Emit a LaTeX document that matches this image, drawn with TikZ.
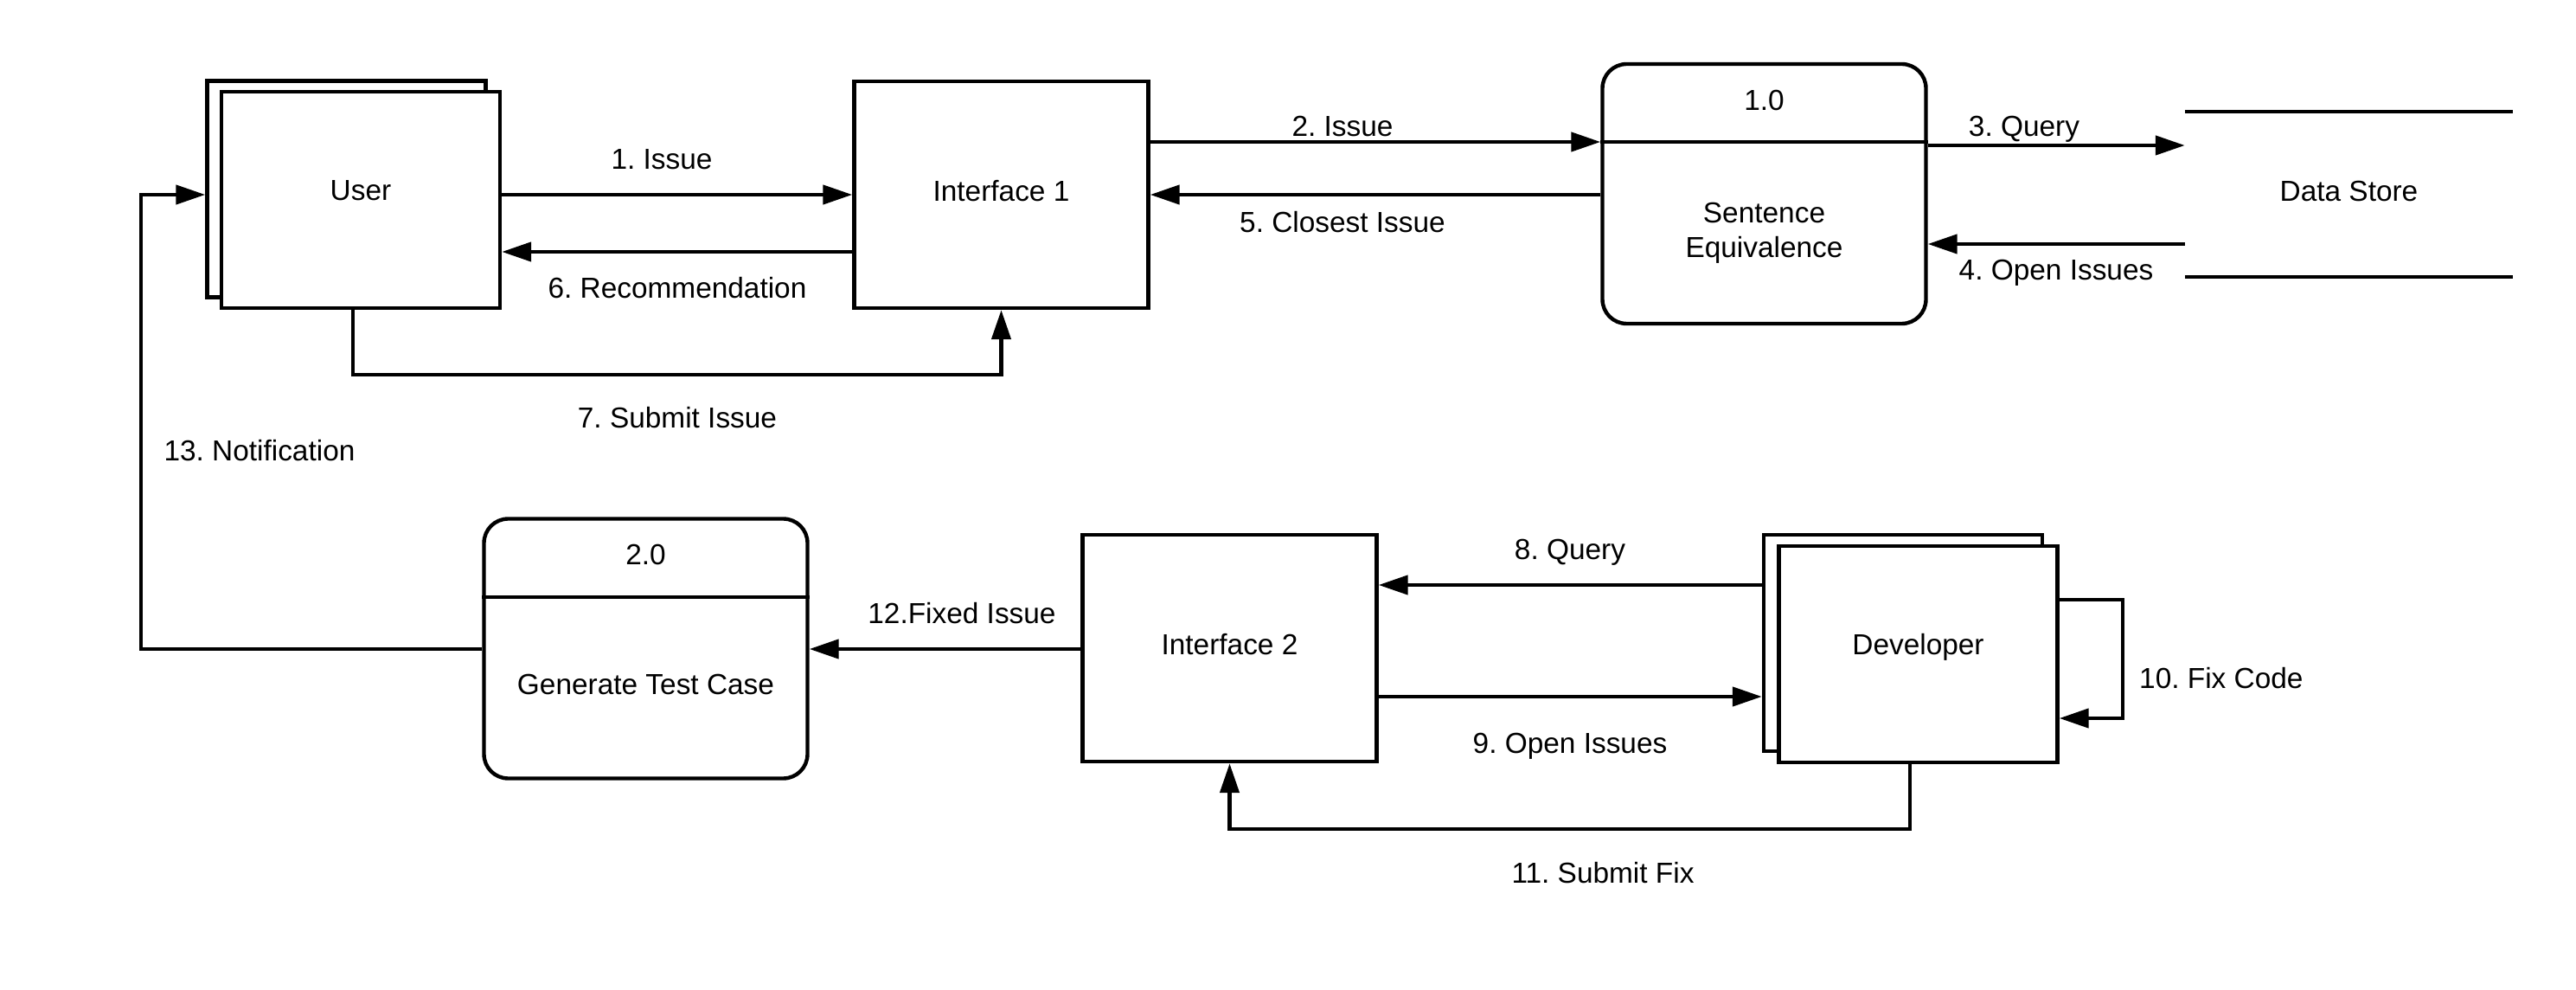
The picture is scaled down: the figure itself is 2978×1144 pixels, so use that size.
\documentclass[tikz,border=0pt]{standalone}
\usepackage{fontspec}
\setmainfont{Liberation Sans}
\usetikzlibrary{arrows.meta}
\frenchspacing

\begin{document}
\begin{tikzpicture}[x=0.25pt, y=-0.25pt, line width=1.1pt,
        font=\fontsize{8.35pt}{10pt}\selectfont,
        txt/.style = {text height=6pt, text depth=0pt},
        ext/.style = {draw, fill=white, inner sep=0pt, minimum width=80.5pt, minimum height=62.5pt, text height=6pt, text depth=5.5pt},
        iface/.style = {draw, inner sep=0pt, minimum width=85pt, minimum height=65.5pt, text height=6pt, text depth=2pt},
        proc/.style = {draw, rounded corners=7pt, inner sep=0pt, minimum width=93.5pt, minimum height=75pt},
        flow/.style = {-{Triangle[length=8.5pt, width=5.5pt]}}]
        \useasboundingbox (0,0) rectangle (2978,1144);
        % entities, interfaces, processes
        \node [ext] (userb) at (400.5,218.5) {};
        \node [ext] (user) at (417,231) {User};
        \node [iface] (if1) at (1157.5,225) {Interface 1};
        \node [proc] (se) at (2039.5,224) {};
        \node [txt] (senum) at (2039.5,116) {1.0};
        \node [align=center] (setxt) at (2039.5,269) {Sentence\\Equivalence};
        \node [txt, text depth=2pt, minimum width=93.75pt, minimum height=46.75pt] (ds) at (2715.5,224.5) {Data Store};
        \node [proc] (gtc) at (746.5,749.5) {};
        \node [txt] (gtcnum) at (746.5,641) {2.0};
        \node [txt] (gtctxt) at (746.5,790) {Generate Test Case};
        \node [iface] (if2) at (1421.5,749) {Interface 2};
        \node [ext] (devb) at (2200,743) {};
        \node [ext] (dev) at (2217.5,756) {Developer};
        \draw (se.west |- 0,164) -- (se.east |- 0,164);
        \draw (gtc.west |- 0,690) -- (gtc.east |- 0,690);
        \draw (ds.north west) -- (ds.north east);
        \draw (ds.south west) -- (ds.south east);
        % flows
        \draw [flow] (user.east |- 0,225) -- (if1.west |- 0,225);
        \draw [flow] (if1.east |- 0,164) -- (se.west |- 0,164);
        \draw [flow] (se.east |- 0,168) -- (ds.west |- 0,168);
        \draw [flow] (ds.west |- 0,282) -- (se.east |- 0,282);
        \draw [flow] (se.west |- 0,225) -- (if1.east |- 0,225);
        \draw [flow] (if1.west |- 0,291) -- (user.east |- 0,291);
        \draw [flow] (user.south -| 408,0) -- (408,433) -| (if1.south);
        \draw [flow] (devb.west |- 0,676) -- (if2.east |- 0,676);
        \draw [flow] (if2.east |- 0,805) -- (devb.west |- 0,805);
        \draw [flow] (dev.east |- 0,693) -- (2454,693) |- (dev.east |- 0,830);
        \draw [flow] (dev.south -| 2208,0) -- (2208,958) -| (if2.south);
        \draw [flow] (if2.west |- 0,750) -- (gtc.east |- 0,750);
        \draw [flow] (gtc.west |- 0,750) -- (163,750) |- (userb.west |- 0,225);
        % flow labels
        \node [txt] (l1) at (765,184) {1. Issue};
        \node [txt] (l2) at (1552,146) {2. Issue};
        \node [txt] (l3) at (2340,146) {3. Query};
        \node [txt] (l4) at (2377,312) {4. Open Issues};
        \node [txt] (l5) at (1552,257) {5. Closest Issue};
        \node [txt] (l6) at (783,333) {6. Recommendation};
        \node [txt] (l7) at (783,483) {7. Submit Issue};
        \node [txt] (l8) at (1815,634) {8. Query};
        \node [txt] (l9) at (1815,858) {9. Open Issues};
        \node [txt, anchor=west, inner sep=0pt] (l10) at (2471,783) {10. Fix Code};
        \node [txt] (l11) at (1853,1008) {11. Submit Fix};
        \node [txt] (l12) at (1112,708) {12.Fixed Issue};
        \node [txt] (l13) at (300,521) {13. Notification};
\end{tikzpicture}
\end{document}
